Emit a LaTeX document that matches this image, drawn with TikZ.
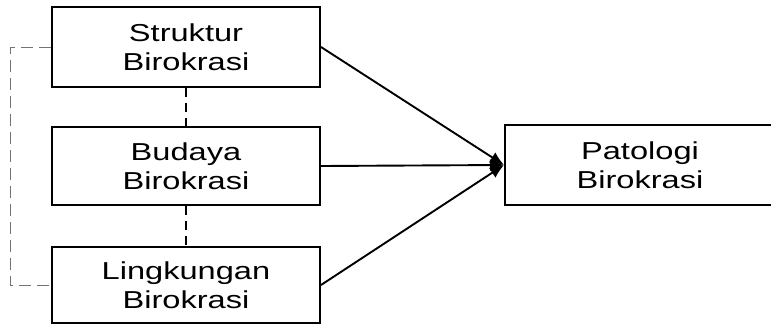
\documentclass[tikz,border=0pt]{standalone}
\usepackage{fontspec}
\setmainfont{Liberation Sans}
\newfontfamily\widefont[FakeStretch=1.33]{Liberation Sans}
\usetikzlibrary{arrows.meta}
\begin{document}
\begin{tikzpicture}[x=1pt,y=-1pt,
  box/.style={draw, line width=2pt, minimum width=268pt, minimum height=80pt, align=center, font=\widefont\fontsize{24.5}{29}\selectfont, inner sep=0pt},
  arr/.style={line width=1.9pt, -{Latex[length=14pt,width=12pt]}},
  dsh/.style={line width=1.3pt, dash pattern=on 9pt off 6pt},
  gdsh/.style={line width=1pt, draw=black!55, dash pattern=on 12pt off 6pt}]
\useasboundingbox (0,0) rectangle (771,327);
\node[box] (s) at (186,47) {Struktur\\Birokrasi};
\node[box, minimum height=78pt] (b) at (186,166) {Budaya\\Birokrasi};
\node[box, minimum height=76pt] (l) at (186,285) {Lingkungan\\Birokrasi};
\node[box, minimum width=270pt] (p) at (640,165) {Patologi\\Birokrasi};
\coordinate (t) at (p.west);
\draw[arr] (s.east) -- (t);
\draw[arr] (b.east) -- (t);
\draw[arr] (l.east) -- (t);
\draw[dsh] (s.south) -- (b.north);
\draw[dsh] (b.south) -- (l.north);
\draw[gdsh] (s.west) -| (10,285) -- (l.west);
\end{tikzpicture}
\end{document}
